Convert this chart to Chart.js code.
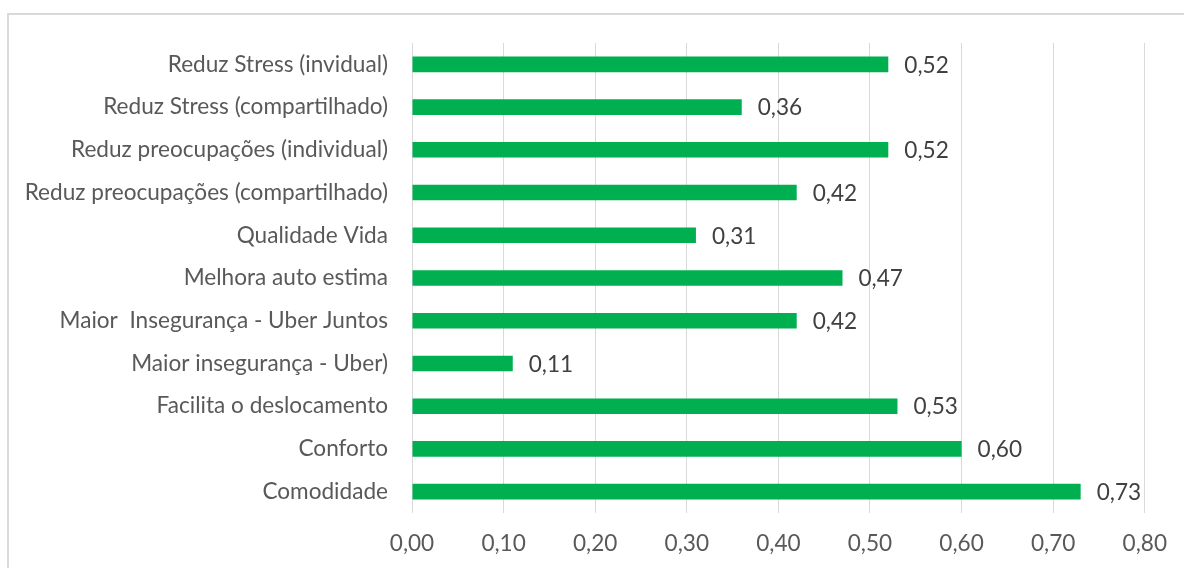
<!DOCTYPE html>
<html>
<head>
<meta charset="utf-8">
<script src="https://cdn.jsdelivr.net/npm/chart.js@4/dist/chart.umd.min.js"></script>
<style>
  html, body { margin: 0; padding: 0; background: #ffffff; }
  #wrap { width: 1184px; height: 568px; }
</style>
</head>
<body>
<div id="wrap"><canvas id="c" width="1184" height="568"></canvas></div>
<script>
// Categories, top to bottom
const categories = [
  'Reduz Stress (invidual)',
  'Reduz Stress (compartilhado)',
  'Reduz preocupações (individual)',
  'Reduz preocupações (compartilhado)',
  'Qualidade Vida',
  'Melhora auto estima',
  'Maior  Insegurança - Uber Juntos',
  'Maior insegurança - Uber)',
  'Facilita o deslocamento',
  'Conforto',
  'Comodidade'
];

// Mean scores per item
const scores = [0.52, 0.36, 0.52, 0.42, 0.31, 0.47, 0.42, 0.11, 0.53, 0.60, 0.73];

// Value axis range
const axisMin = 0;
const axisMax = 0.8;
const axisStep = 0.1;

const FONT = 'Lato, "Open Sans", sans-serif';
const FONT_SIZE = 22.6;
const fmt = v => v.toFixed(2).replace('.', ',');

// Thin outer frame of the chart object
const frame = {
  id: 'frame',
  beforeDraw(chart) {
    const ctx = chart.ctx;
    ctx.save();
    ctx.strokeStyle = '#d9d9d9';
    ctx.lineWidth = 2;
    ctx.strokeRect(8, 14, chart.width + 20, chart.height + 20);
    ctx.restore();
  }
};

// Value labels just past the end of each bar
const valueLabels = {
  id: 'valueLabels',
  afterDatasetsDraw(chart) {
    const ctx = chart.ctx;
    const meta = chart.getDatasetMeta(0);
    const data = chart.data.datasets[0].data;
    ctx.save();
    ctx.font = FONT_SIZE + 'px ' + FONT;
    ctx.fillStyle = '#404040';
    ctx.textAlign = 'left';
    ctx.textBaseline = 'middle';
    meta.data.forEach((bar, i) => {
      ctx.fillText(fmt(data[i]), bar.x + 16, bar.y + 1);
    });
    ctx.restore();
  }
};

new Chart(document.getElementById('c'), {
  type: 'bar',
  data: {
    labels: categories,
    datasets: [{
      data: scores,
      backgroundColor: '#00b050',
      borderWidth: 0,
      categoryPercentage: 1,
      barPercentage: 0.365
    }]
  },
  options: {
    indexAxis: 'y',
    responsive: false,
    animation: false,
    layout: { padding: { top: 43, right: 38, left: 0, bottom: 0 } },
    plugins: {
      legend: { display: false },
      tooltip: { enabled: false }
    },
    scales: {
      x: {
        min: axisMin,
        max: axisMax,
        border: { display: false },
        grid: { color: '#d9d9d9', lineWidth: 1, drawTicks: false },
        ticks: {
          stepSize: axisStep,
          padding: 17,
          color: '#595959',
          font: { family: FONT, size: FONT_SIZE },
          callback: v => fmt(v)
        },
        afterFit(scale) { scale.height = 55; }
      },
      y: {
        border: { display: false },
        grid: { display: false, drawTicks: false },
        ticks: {
          padding: 24,
          color: '#595959',
          font: { family: FONT, size: FONT_SIZE },
          autoSkip: false
        },
        afterFit(scale) { scale.width = 412; }
      }
    }
  },
  plugins: [frame, valueLabels]
});
</script>
</body>
</html>
